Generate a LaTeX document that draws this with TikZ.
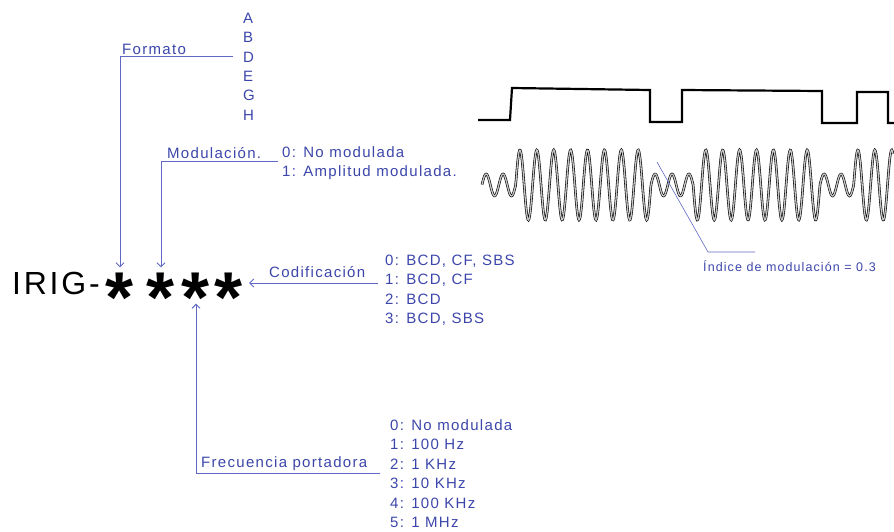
\documentclass[tikz,border=0pt]{standalone}
\usepackage{fontspec}
\setmainfont{Liberation Sans}
\newfontfamily\lblfont{Liberation Sans}[LetterSpace=8.7]
\usepackage{xcolor}
\usepackage{tikz}
\usetikzlibrary{positioning,calc,arrows.meta}

\definecolor{lblue}{RGB}{60,70,170}
\definecolor{lline}{RGB}{95,105,195}
\newcommand{\irstar}{\raisebox{-0.55em}[0.16em][0.16em]{*}}

\begin{document}
\begin{tikzpicture}[x=1pt, y=-1pt, >={Straight Barb[length=4pt,width=8pt]},
    lbl/.style={font=\lblfont\fontsize{15}{18}\selectfont, text=lblue, inner sep=0pt,
        text height=10.7pt, text depth=0pt, anchor=west},
    small/.style={lbl, font=\lblfont\fontsize{12.5}{15}\selectfont, text height=9pt},
    lnk/.style={draw=lline, line width=0.9pt},
    starbox/.style={inner sep=0pt, font=\bfseries\fontsize{72}{72}\selectfont},
    sqw/.style={draw=black, line width=2.2pt},
    carrier/.style={draw=black, line width=0.6pt, double=gray!45, double distance=1.3pt}]
    \useasboundingbox (0,0) rectangle (894,531);

    % titulo
    \node[inner sep=0pt, anchor=west, font=\lblfont\fontsize{32}{36}\selectfont,
        text height=23pt, text depth=0pt] (irig) at (12,283) {IRIG-};
    \node[starbox] (star1) at (120,283) {\irstar};
    \node[starbox] (star2) at (161,283) {\irstar};
    \node[starbox] (star3) at (196,283) {\irstar};
    \node[starbox] (star4) at (229,283) {\irstar};

    % formato
    \foreach \l [count=\i from 0] in {A,B,D,E,G,H}
        \node[lbl] (let\l) at (243,18+19.4*\i) {\l};
    \node[lbl] (fmt) at (122,49) {Formato};
    \draw[lnk, ->, shorten >=4pt] ([xshift=-10pt]letD.west) -| (star1.north);

    % modulacion
    \node[lbl] (mod0) at (282,152) {0: No modulada};
    \node[lbl] (mod1) at (282,171) {1: Amplitud modulada.};
    \node[lbl] (modlbl) at (167,153) {Modulación.};
    \draw[lnk, ->, shorten >=4pt] ($(mod0.west)!.5!(mod1.west)+(-4,0)$) -| (star2.north);

    % codificacion
    \foreach \t [count=\i from 0] in {{BCD, CF, SBS},{BCD, CF},{BCD},{BCD, SBS}}
        \node[lbl] (cod\i) at (385,260+19.5*\i) {\i: \t};
    \node[lbl] (codlbl) at (269,272) {Codificación};
    \draw[lnk, ->, shorten >=6pt] ([xshift=-7pt]cod1.west |- star4.east) -- (star4.east);

    % frecuencia portadora
    \foreach \t [count=\i from 0] in {No modulada,100 Hz,1 KHz,10 KHz,100 KHz,1 MHz}
        \node[lbl] (frq\i) at (390,425+19.5*\i) {\i: \t};
    \node[lbl] (frqlbl) at (201,462) {Frecuencia portadora};
    \draw[lnk, ->, shorten >=9pt] ($(frq2.west)!.5!(frq3.west)+(-10,0)$) -| (star3.south);

    % senales
    \draw[sqw] (478,120) -- (510,120) -- (512,88) -- (650,90) -- (650,122) -- (682,122)
        -- (682,90) -- (822,91) -- (822,123) -- (857,123) -- (857,92) -- (888,92)
        -- (888,123) -- (894,123);
    \draw[carrier] plot[domain=482:893, samples=700]
        (\x, {185 - (11 + 24*((\x>515.7)*(\x<650.9) + (\x>693.2)*(\x<819.9) + (\x>853.7)))
              * sin((\x-515.7)/16.9*360)});

    % indice de modulacion
    \coordinate (mi) at (657,162);
    \coordinate (mk) at (708,252);
    \node[small] (mitxt) at (703,267) {Índice de modulación = 0.3};
    \draw[draw=lline, line width=0.6pt] (mi) -- (mk) -- (mk -| 755,0);
\end{tikzpicture}
\end{document}
